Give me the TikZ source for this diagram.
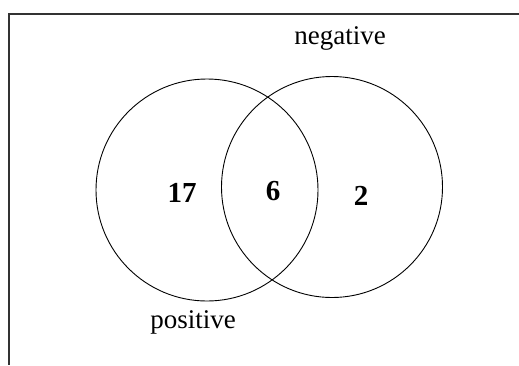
\documentclass[tikz,border=0pt]{standalone}
\usepackage{fontspec}
\setmainfont{Liberation Serif}
\begin{document}
\begin{tikzpicture}[x=1pt,y=-1pt,
  set/.style={circle,draw,line width=0.9pt,minimum size=#1,inner sep=0pt},
  count/.style={font=\fontsize{29}{29}\selectfont\bfseries},
  setname/.style={font=\fontsize{27}{27}\selectfont}]
  \useasboundingbox (0,0) rectangle (519,365);
  % frame (only top and left edges show)
  \draw[line width=2.2pt,black!80] (519,14) -- (9,14) -- (9,365);
  % the two sets
  \node[set=222pt] (pos) at (207,190) {};
  \node[set=221pt] (neg) at (332,187) {};
  \node[count] (onlypos) at (182,193) {17};
  \node[count] (both) at (273,191) {6};
  \node[count] (onlyneg) at (361,196) {2};
  \node[setname] (poslabel) at (193,322) {positive};
  \node[setname] (neglabel) at (340,38) {negative};
\end{tikzpicture}
\end{document}
